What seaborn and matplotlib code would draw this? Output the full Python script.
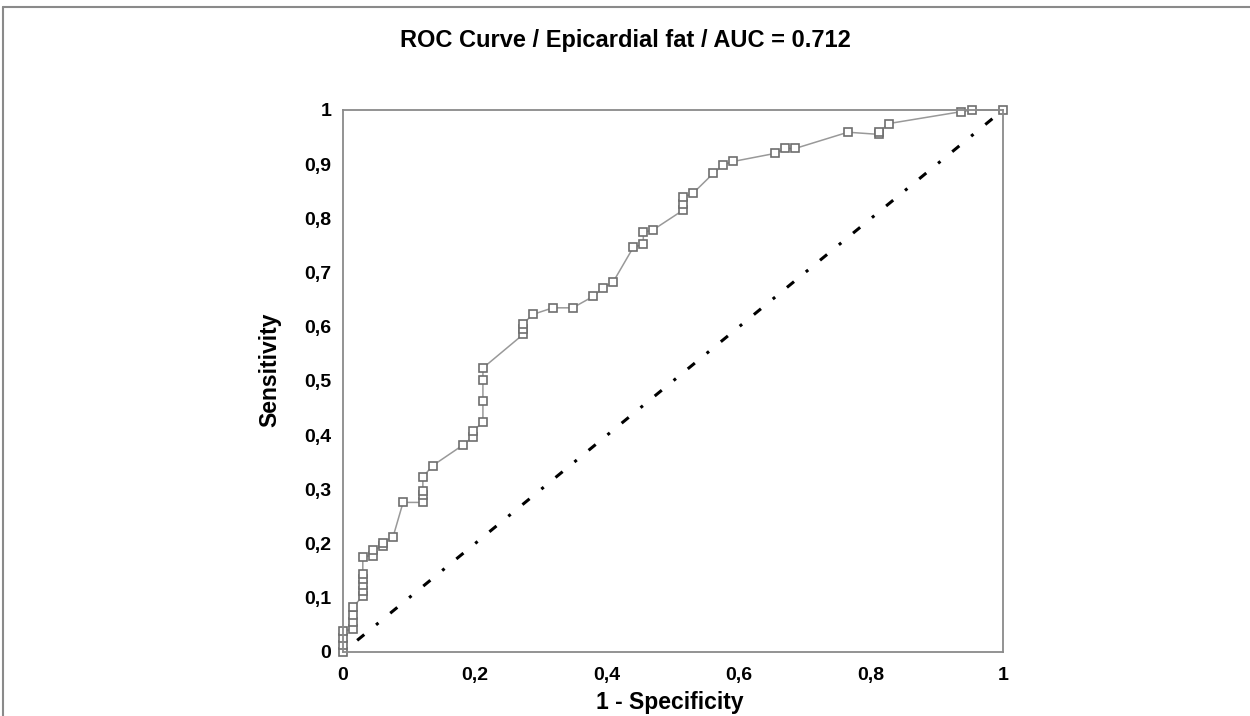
import matplotlib
matplotlib.use('Agg')
import matplotlib.pyplot as plt
import pandas as pd
import seaborn as sns
from matplotlib.lines import Line2D

# ROC points (1 - specificity, sensitivity)
fpr = [0, 0, 0, 0,
       0.015, 0.015, 0.015, 0.015,
       0.03, 0.03, 0.03, 0.03, 0.03, 0.03,
       0.045, 0.045,
       0.061, 0.061,
       0.076,
       0.091,
       0.121, 0.121, 0.121, 0.121,
       0.136,
       0.182,
       0.197, 0.197,
       0.212, 0.212, 0.212, 0.212,
       0.273, 0.273, 0.273,
       0.288,
       0.318, 0.348,
       0.379, 0.394, 0.409,
       0.44, 0.455, 0.455, 0.47,
       0.515, 0.515, 0.515, 0.53,
       0.561, 0.576, 0.591,
       0.655, 0.67, 0.685,
       0.765, 0.812, 0.812, 0.827,
       0.937, 0.953, 1.0]
tpr = [0, 0.013, 0.026, 0.039,
       0.042, 0.056, 0.069, 0.083,
       0.103, 0.113, 0.124, 0.134, 0.144, 0.176,
       0.178, 0.188,
       0.195, 0.202,
       0.213,
       0.276,
       0.276, 0.289, 0.297, 0.323,
       0.344,
       0.382,
       0.397, 0.408,
       0.424, 0.463, 0.502, 0.524,
       0.586, 0.596, 0.606,
       0.623,
       0.635, 0.635,
       0.656, 0.672, 0.682,
       0.747, 0.752, 0.774, 0.779,
       0.815, 0.827, 0.839, 0.846,
       0.883, 0.899, 0.905,
       0.920, 0.929, 0.929,
       0.959, 0.955, 0.959, 0.975,
       0.997, 1.0, 1.0]
diag = [0, 1]

x_ticks = [0, 0.2, 0.4, 0.6, 0.8, 1]
x_tick_labels = ["0", "0,2", "0,4", "0,6", "0,8", "1"]
y_ticks = [0, 0.1, 0.2, 0.3, 0.4, 0.5, 0.6, 0.7, 0.8, 0.9, 1]
y_tick_labels = ["0", "0,1", "0,2", "0,3", "0,4", "0,5", "0,6", "0,7", "0,8", "0,9", "1"]

sns.set_style("white")
plt.rcParams['font.family'] = ['Liberation Sans', 'DejaVu Sans']
plt.rcParams['text.color'] = 'black'
plt.rcParams['xtick.labelcolor'] = 'black'
plt.rcParams['ytick.labelcolor'] = 'black'

df = pd.DataFrame({"fpr": fpr, "tpr": tpr})

fig = plt.figure(figsize=(12.5, 7.16), dpi=100)
ax = fig.add_axes([343 / 1250, 1 - 652 / 716, 660 / 1250, 542 / 716])

# chance line
sns.lineplot(x=diag, y=diag, ax=ax, color="black", linewidth=2.2,
             linestyle=(0, (1, 5, 3, 5)), estimator=None, sort=False)
# roc curve
sns.lineplot(data=df, x="fpr", y="tpr", ax=ax, color="#999999", linewidth=1.1,
             marker="s", markersize=6, markerfacecolor="white",
             markeredgecolor="#6e6e6e", markeredgewidth=1.2,
             estimator=None, sort=False)

ax.set_xlim(0, 1)
ax.set_ylim(0, 1)
ax.set_xticks(x_ticks)
ax.set_xticklabels(x_tick_labels)
ax.set_yticks(y_ticks)
ax.set_yticklabels(y_tick_labels)
ax.tick_params(direction="inout", length=11, width=1, color="#888888",
               labelsize=14)
ax.tick_params(axis="y", pad=3)
ax.tick_params(axis="x", pad=5)
for lab in ax.get_xticklabels() + ax.get_yticklabels():
    lab.set_fontweight("bold")
for sp in ax.spines.values():
    sp.set_color("#8a8a8a")
    sp.set_linewidth(1.3)
ax.set_xlabel("")
ax.set_ylabel("")
for l in ax.lines:
    l.set_clip_on(False)

fig.text(0.5, 1 - 40 / 716, "ROC Curve / Epicardial fat / AUC = 0.712",
         ha="center", va="center", fontsize=17, fontweight="bold")
fig.text(670 / 1250, 1 - 702 / 716, "1 - Specificity", ha="center", va="center",
         fontsize=16.5, fontweight="bold")
fig.text(270 / 1250, 1 - 370 / 716, "Sensitivity", ha="center", va="center",
         rotation=90, fontsize=16.5, fontweight="bold")

# outer frame of the figure (top and left edges visible)
fig.add_artist(Line2D([3 / 1250, 1], [1 - 7 / 716, 1 - 7 / 716],
                      transform=fig.transFigure, color="#8a8a8a", linewidth=1.5))
fig.add_artist(Line2D([3 / 1250, 3 / 1250], [0, 1 - 7 / 716],
                      transform=fig.transFigure, color="#8a8a8a", linewidth=1.5))

plt.savefig("out.png", dpi=100)
